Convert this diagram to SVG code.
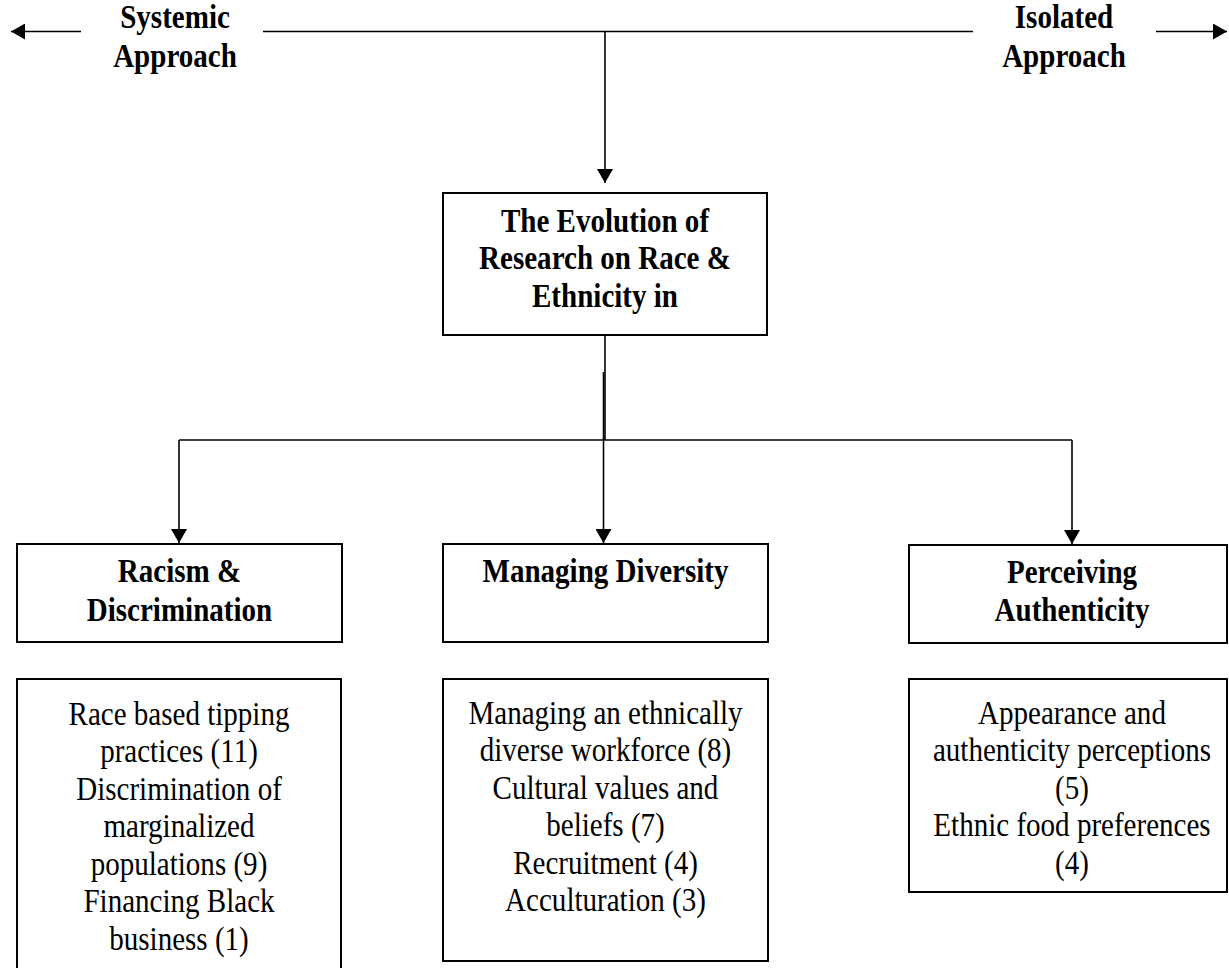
<svg xmlns="http://www.w3.org/2000/svg" width="1229" height="968" viewBox="0 0 1229 968">
<style>
.box{fill:#fff;stroke:#000;stroke-width:2}
.t{font-family:"Liberation Serif","Times New Roman",serif;font-size:33px;fill:#000;text-anchor:middle}
.b{font-weight:bold}
.c{stroke:#000;stroke-width:1.6;fill:none}
</style>
<defs>
<marker id="ah" viewBox="0 0 14 16" refX="14" refY="8" markerWidth="14" markerHeight="16" markerUnits="userSpaceOnUse" orient="auto">
<path d="M0,0 L14,8 L0,16 Z" fill="#000"/>
</marker>
</defs>
<rect width="1229" height="968" fill="#fff"/>
<g id="connectors">
<line class="c" x1="81" y1="31.5" x2="11" y2="31.5" marker-end="url(#ah)"/>
<line class="c" x1="263" y1="31.5" x2="973" y2="31.5"/>
<line class="c" x1="1156" y1="31.5" x2="1227" y2="31.5" marker-end="url(#ah)"/>
<line class="c" x1="605" y1="31.5" x2="605" y2="183" marker-end="url(#ah)"/>
<line class="c" x1="605" y1="335" x2="605" y2="440"/>
<line class="c" x1="179" y1="440" x2="1072" y2="440"/>
<line class="c" x1="179" y1="440" x2="179" y2="543" marker-end="url(#ah)"/>
<line class="c" x1="603.5" y1="372" x2="603.5" y2="543" marker-end="url(#ah)"/>
<line class="c" x1="1072" y1="440" x2="1072" y2="544" marker-end="url(#ah)"/>
</g>
<g id="label-systemic" transform="translate(175 0) scale(0.88 1)">
<text class="t b" x="0" y="28">Systemic</text>
<text class="t b" x="0" y="67">Approach</text>
</g>
<g id="label-isolated" transform="translate(1064 0) scale(0.88 1)">
<text class="t b" x="0" y="28">Isolated</text>
<text class="t b" x="0" y="67">Approach</text>
</g>
<g id="node-root">
<rect class="box" x="443" y="193" width="324" height="142"/>
<g transform="translate(605 0) scale(0.88 1)">
<text class="t b" x="0" y="232">The Evolution of</text>
<text class="t b" x="0" y="269.5">Research on Race &amp;</text>
<text class="t b" x="0" y="307">Ethnicity in</text>
</g>
</g>
<g id="node-racism">
<rect class="box" x="17" y="544" width="325" height="98"/>
<g transform="translate(179.5 0) scale(0.88 1)">
<text class="t b" x="0" y="582">Racism &amp;</text>
<text class="t b" x="0" y="621">Discrimination</text>
</g>
</g>
<g id="node-diversity">
<rect class="box" x="443" y="544" width="325" height="98"/>
<g transform="translate(605.5 0) scale(0.88 1)">
<text class="t b" x="0" y="582">Managing Diversity</text>
</g>
</g>
<g id="node-authenticity">
<rect class="box" x="909" y="545" width="318" height="98"/>
<g transform="translate(1072 0) scale(0.88 1)">
<text class="t b" x="0" y="583">Perceiving</text>
<text class="t b" x="0" y="621">Authenticity</text>
</g>
</g>
<g id="node-racism-topics">
<rect class="box" x="17" y="679" width="324" height="300"/>
<g transform="translate(179 0) scale(0.88 1)">
<text class="t" x="0" y="725">Race based tipping</text>
<text class="t" x="0" y="762.5">practices (11)</text>
<text class="t" x="0" y="800">Discrimination of</text>
<text class="t" x="0" y="837.5">marginalized</text>
<text class="t" x="0" y="875">populations (9)</text>
<text class="t" x="0" y="912.5">Financing Black</text>
<text class="t" x="0" y="950">business (1)</text>
</g>
</g>
<g id="node-diversity-topics">
<rect class="box" x="443" y="679" width="325" height="282"/>
<g transform="translate(605.5 0) scale(0.88 1)">
<text class="t" x="0" y="724">Managing an ethnically</text>
<text class="t" x="0" y="761.5">diverse workforce (8)</text>
<text class="t" x="0" y="799">Cultural values and</text>
<text class="t" x="0" y="836.5">beliefs (7)</text>
<text class="t" x="0" y="874">Recruitment (4)</text>
<text class="t" x="0" y="911.5">Acculturation (3)</text>
</g>
</g>
<g id="node-authenticity-topics">
<rect class="box" x="909" y="679" width="318" height="213"/>
<g transform="translate(1072 0) scale(0.88 1)">
<text class="t" x="0" y="724">Appearance and</text>
<text class="t" x="0" y="761.5">authenticity perceptions</text>
<text class="t" x="0" y="799">(5)</text>
<text class="t" x="0" y="836.5">Ethnic food preferences</text>
<text class="t" x="0" y="874">(4)</text>
</g>
</g>
</svg>
